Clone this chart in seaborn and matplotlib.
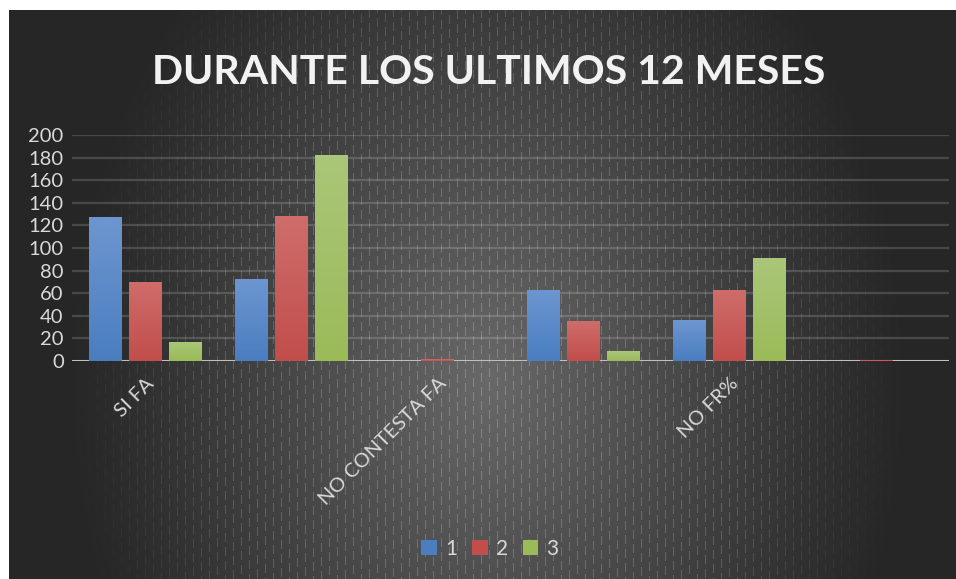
import numpy as np
import pandas as pd
import matplotlib
matplotlib.use("Agg")
import matplotlib.pyplot as plt
import seaborn as sns
from matplotlib.patches import Rectangle

# data
categories = ["SI FA", "NO FA", "NO CONTESTA FA", "SI FR%", "NO FR%", "NO CONTESTA FR%"]
serie_1 = [127, 73, 0, 63, 36, 0]
serie_2 = [70, 128, 1.5, 35, 63, 0.6]
serie_3 = [17, 182, 0, 8.5, 91, 0]
series_names = ["1", "2", "3"]
y_ticks = list(range(0, 201, 20))

title = "DURANTE LOS ULTIMOS 12 MESES"
colors_top = ["#6d96cf", "#cf6d6b", "#aac679"]
colors_bottom = ["#4a7ec1", "#c14e4b", "#9bbb59"]
text_color = "#d9d9d9"

df = pd.DataFrame({
    "categoria": categories * 3,
    "serie": [s for s in series_names for _ in categories],
    "valor": serie_1 + serie_2 + serie_3,
})

sns.set_theme(style="dark")
plt.rcParams["font.family"] = ["Lato", "DejaVu Sans"]

W, H = 956, 579
fig = plt.figure(figsize=(W / 100, H / 100), dpi=100, facecolor="white")

# background: dark panel with a soft radial glow and faint vertical streaks
bg_ax = fig.add_axes([9 / W, 0, (W - 9) / W, (H - 10) / H])
bw, bh = W - 9, H - 10
xx, yy = np.meshgrid(np.arange(bw), np.arange(bh))
r = np.sqrt(((xx - 478) / 420.0) ** 2 + ((yy - 370) / 560.0) ** 2)
glow = np.clip(1 - r, 0, 1) ** 1.1
base = 0.15 + 0.26 * glow
streak = ((xx % 8) == 0) * (((yy + (xx // 8) * 5) % 14) < 9) * 0.13 * np.clip(glow * 3, 0, 1)
img = np.clip(base + streak, 0, 1)
bg_ax.imshow(np.dstack([img, img, img]), aspect="auto", interpolation="bilinear")
bg_ax.set_axis_off()

ax = fig.add_axes([72 / W, 1 - 361 / H, (949 - 72) / W, (361 - 135) / H])
ax.set_facecolor("none")

sns.barplot(data=df, x="categoria", y="valor", hue="serie", palette=colors_bottom,
            width=0.82, gap=0.18, legend=False, ax=ax, zorder=3,
            linewidth=0, edgecolor="none")

# vertical gradient inside each bar
for i, cont in enumerate(ax.containers):
    grad = np.linspace(0, 1, 64)[:, None]
    c0 = np.array(matplotlib.colors.to_rgb(colors_top[i]))
    c1 = np.array(matplotlib.colors.to_rgb(colors_bottom[i]))
    cols = (c0[None, None, :] * (1 - grad[..., None]) + c1[None, None, :] * grad[..., None])
    for bar in cont:
        x0, w, h = bar.get_x(), bar.get_width(), bar.get_height()
        if h <= 0:
            bar.set_visible(False)
            continue
        im = ax.imshow(cols, extent=[x0, x0 + w, 0, h], aspect="auto", zorder=4)
        im.set_clip_path(bar)

ax.set_xlim(-0.5, len(categories) - 0.5)
ax.set_ylim(0, 200)
ax.set_yticks(y_ticks)
ax.set_yticklabels([str(t) for t in y_ticks], fontsize=14.5, color=text_color)
ax.set_xticks(range(len(categories)))
ax.set_xticklabels([c if i % 2 == 0 else "" for i, c in enumerate(categories)],
                   rotation=45, ha="right", va="top", rotation_mode="anchor",
                   fontsize=14.5, color=text_color)
ax.tick_params(axis="x", length=0, pad=10)
ax.tick_params(axis="y", length=0, pad=6)
ax.set_xlabel("")
ax.set_ylabel("")
for s in ax.spines.values():
    s.set_visible(False)
ax.grid(False)
for t in y_ticks[1:]:
    ax.axhline(t, color="white", alpha=0.16, lw=1.6, zorder=1)
ax.axhline(0, color="#bfbfbf", lw=2.2, zorder=2)

fig.text(489 / W, 1 - 72 / H, title, ha="center", va="center",
         fontsize=29.5, fontweight="bold", color="#f2f2f2")

handles = [Rectangle((0, 0), 1, 1, facecolor=colors_bottom[i], edgecolor="none")
           for i in range(3)]
leg = fig.legend(handles, series_names, loc="center", bbox_to_anchor=(490 / W, 1 - 549 / H),
                 ncol=3, frameon=False, fontsize=15, handlelength=0.75, handleheight=0.75,
                 handletextpad=0.4, columnspacing=0.7)
for t in leg.get_texts():
    t.set_color(text_color)

fig.savefig("out.png", dpi=100, facecolor="white")
